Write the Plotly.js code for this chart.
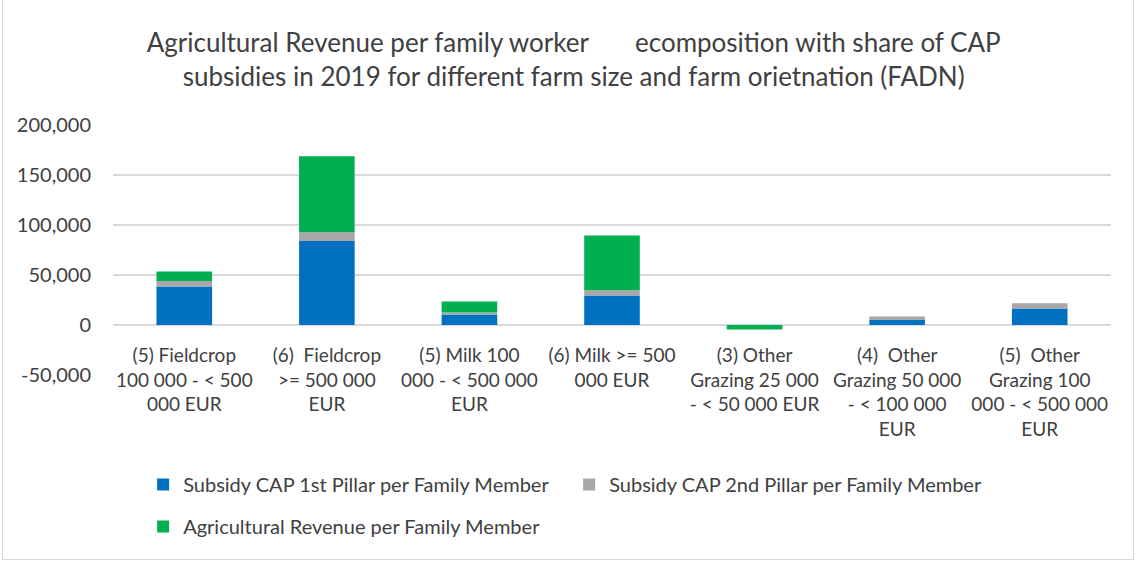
<!DOCTYPE html>
<html>
<head>
<meta charset="utf-8">
<script src="https://cdn.plot.ly/plotly-3.0.1.min.js"></script>
<style>
  html, body { margin: 0; padding: 0; background: #ffffff; }
  #wrap { position: relative; width: 1136px; height: 562px; }
  #chart { width: 1136px; height: 562px; }
  #frame { position: absolute; left: 2px; top: -1px; width: 1132px; height: 561px;
           border: 1px solid #d9d9d9; box-sizing: border-box; pointer-events: none; }
</style>
</head>
<body>
<div id="wrap">
  <div id="chart"></div>
  <div id="frame"></div>
</div>
<script>
// Categories (farm type / size class)
const categories = [
  "(5) Fieldcrop 100 000 - < 500 000 EUR",
  "(6) Fieldcrop >= 500 000 EUR",
  "(5) Milk 100 000 - < 500 000 EUR",
  "(6) Milk >= 500 000 EUR",
  "(3) Other Grazing 25 000 - < 50 000 EUR",
  "(4) Other Grazing 50 000 - < 100 000 EUR",
  "(5) Other Grazing 100 000 - < 500 000 EUR"
];
// Category tick labels as wrapped in the reference
const categoryLabels = [
  "(5) Fieldcrop<br>100 000 - &lt; 500<br>000 EUR",
  "(6)  Fieldcrop<br>&gt;= 500 000<br>EUR",
  "(5) Milk 100<br>000 - &lt; 500 000<br>EUR",
  "(6) Milk &gt;= 500<br>000 EUR",
  "(3) Other<br>Grazing 25 000<br>- &lt; 50 000 EUR",
  "(4)  Other<br>Grazing 50 000<br>- &lt; 100 000<br>EUR",
  "(5)  Other<br>Grazing 100<br>000 - &lt; 500 000<br>EUR"
];
// Series values (EUR per family member)
const pillar1 = [38600, 84000, 10400, 29400, 0, 5000, 16400];
const pillar2 = [5300, 9000, 2000, 5300, 0, 3400, 5300];
const agriRevenue = [9600, 75700, 11000, 54700, -4600, 0, 0];

const seriesNames = [
  "Subsidy CAP 1st Pillar per Family Member",
  "Subsidy CAP 2nd Pillar per Family Member",
  "Agricultural Revenue per Family Member"
];
// Y-axis ticks
const yTickVals = [-50000, 0, 50000, 100000, 150000, 200000];
const yTickText = ["-50,000", "0", "50,000", "100,000", "150,000", "200,000"];

const titleText = "Agricultural Revenue per family worker&nbsp;&nbsp;&nbsp;&nbsp;&nbsp;&nbsp;&nbsp;ecomposition with share of CAP<br>subsidies in 2019 for different farm size and farm orietnation (FADN)";

const FONT = "Lato, 'Open Sans', sans-serif";
const TXT = "#404040";

const traces = [
  { type: "bar", x: categories, y: pillar1, name: seriesNames[0],
    marker: { color: "#0070C0" }, legend: "legend", hoverinfo: "x+y+name" },
  { type: "bar", x: categories, y: pillar2, name: seriesNames[1],
    marker: { color: "#A9A7A7" }, legend: "legend", hoverinfo: "x+y+name" },
  { type: "bar", x: categories, y: agriRevenue, name: seriesNames[2],
    marker: { color: "#00B050" }, legend: "legend2", hoverinfo: "x+y+name" }
];

const layout = {
  width: 1136, height: 562,
  paper_bgcolor: "#ffffff", plot_bgcolor: "#ffffff",
  font: { family: FONT, size: 18, color: TXT },
  margin: { l: 113, r: 25, t: 125, b: 187, pad: 0 },
  barmode: "relative",
  bargap: 0.61,
  title: { text: titleText, font: { family: FONT, size: 26, color: TXT },
           x: 0.505, xanchor: "center", xref: "container",
           y: 0.908, yanchor: "middle", yref: "container" },
  xaxis: {
    type: "category",
    tickvals: categories, ticktext: categoryLabels,
    anchor: "free", position: 0.2,
    showline: false, showgrid: false, zeroline: false,
    ticks: "", ticklabelstandoff: 17,
    tickfont: { family: FONT, size: 19, color: TXT },
    tickangle: 0, automargin: false
  },
  yaxis: {
    range: [-50000, 200000],
    tickvals: yTickVals, ticktext: yTickText,
    showgrid: true, gridcolor: "#d9d9d9", gridwidth: 1.5,
    zeroline: true, zerolinecolor: "#d9d9d9", zerolinewidth: 1.5,
    showline: false, ticks: "", ticklabelstandoff: 21,
    tickfont: { family: FONT, size: 20, color: TXT },
    automargin: false
  },
  legend: {
    orientation: "h", xref: "container", yref: "container",
    x: 0.126, xanchor: "left", y: 0.138, yanchor: "middle",
    entrywidth: 381, entrywidthmode: "pixels",
    font: { family: FONT, size: 20, color: TXT },
    bgcolor: "rgba(0,0,0,0)", itemclick: false, itemdoubleclick: false
  },
  legend2: {
    orientation: "h", xref: "container", yref: "container",
    x: 0.126, xanchor: "left", y: 0.063, yanchor: "middle",
    font: { family: FONT, size: 20, color: TXT },
    bgcolor: "rgba(0,0,0,0)", itemclick: false, itemdoubleclick: false
  },
  showlegend: true,
  hovermode: "closest"
};

Plotly.newPlot("chart", traces, layout, { displayModeBar: false, staticPlot: false });
</script>
</body>
</html>
